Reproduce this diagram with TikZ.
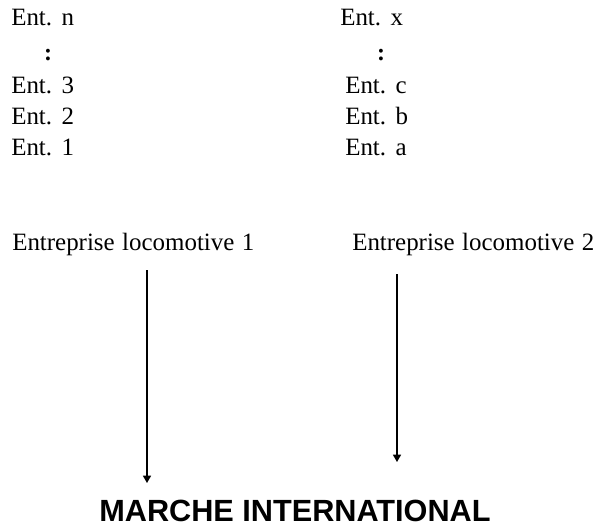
\documentclass[tikz,border=0pt]{standalone}
\usepackage{fontspec}
\setmainfont[WordSpace=1.2]{Liberation Serif}
\newfontfamily\arialfont{Liberation Sans}
\usetikzlibrary{arrows.meta}
\begin{document}
\begin{tikzpicture}[x=0.75pt,y=-0.75pt,
  ent/.style={anchor=base west,inner sep=0pt,font=\fontsize{18.7}{22}\selectfont},
  dots/.style={inner sep=0pt,font=\bfseries\fontsize{18}{22}\selectfont},
  flow/.style={line width=1.1pt,-{Triangle[length=5.5pt,width=6pt]}}]
\useasboundingbox (0,0) rectangle (608,526);
% left column
\node[ent] (n) at (11,25) {Ent. n};
\node[dots] (ld) at (48,55) {:};
\node[ent] (e3) at (11,93) {Ent. 3};
\node[ent] (e2) at (11,124) {Ent. 2};
\node[ent] (e1) at (11,155) {Ent. 1};
% right column
\node[ent] (x) at (340,25) {Ent. x};
\node[dots] (rd) at (381,55) {:};
\node[ent] (c) at (345,93) {Ent. c};
\node[ent] (b) at (345,124) {Ent. b};
\node[ent] (a) at (345,155) {Ent. a};
% locomotives
\node[ent] (l1) at (12,250) {Entreprise locomotive 1};
\node[ent] (l2) at (352,250) {Entreprise locomotive 2};
\coordinate (s1) at (147,270);
\coordinate (t1) at (147,483);
\coordinate (s2) at (397,274);
\coordinate (t2) at (397,462);
\draw[flow] (s1) -- (t1);
\draw[flow] (s2) -- (t2);
\node[anchor=base,inner sep=0pt,font=\arialfont\bfseries\fontsize{23}{26}\selectfont] (m) at (295,521) {MARCHE INTERNATIONAL};
\end{tikzpicture}
\end{document}
